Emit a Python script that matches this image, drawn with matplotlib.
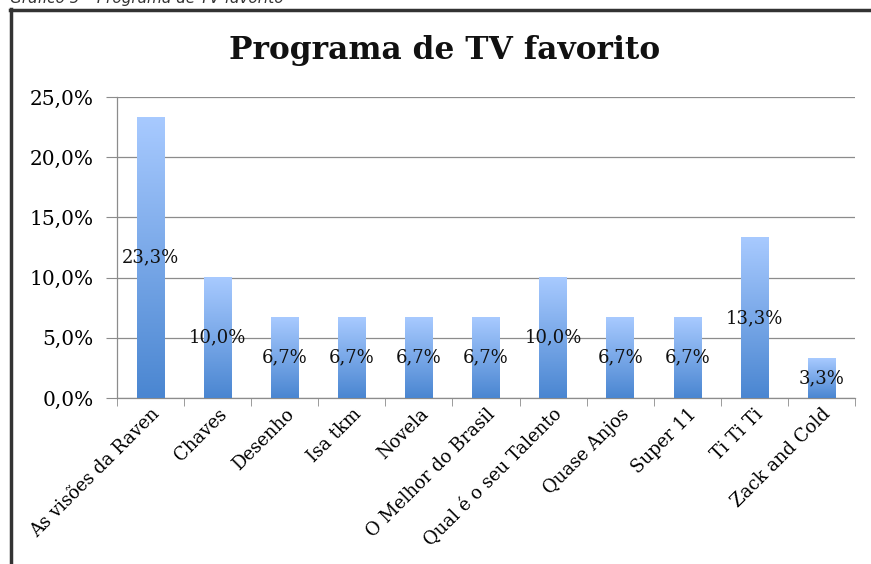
import matplotlib
matplotlib.use("Agg")
import matplotlib.pyplot as plt
import numpy as np
from matplotlib.colors import LinearSegmentedColormap
from matplotlib.lines import Line2D

categories = ["As visões da Raven", "Chaves", "Desenho", "Isa tkm", "Novela",
              "O Melhor do Brasil", "Qual é o seu Talento", "Quase Anjos",
              "Super 11", "Ti Ti Ti", "Zack and Cold"]
values = [23.3, 10.0, 6.7, 6.7, 6.7, 6.7, 10.0, 6.7, 6.7, 13.3, 3.3]
yticks = [0, 5, 10, 15, 20, 25]
title = "Programa de TV favorito"
caption = "Gráfico 5 – Programa de TV favorito"

serif = ["DejaVu Serif"]

W, H = 871, 564
fig = plt.figure(figsize=(W / 100, H / 100), dpi=100)

# outer frame
fig.add_artist(Line2D([10.5 / W, 10.5 / W], [0, 1 - 9 / H], color="#333333", lw=2.5))
fig.add_artist(Line2D([10 / W, 1], [1 - 9.5 / H, 1 - 9.5 / H], color="#333333", lw=2.5))
fig.text(10 / W, 1 - 3 / H, caption, fontsize=11, style="italic",
         family="DejaVu Sans", color="#333333", va="baseline", ha="left")

ax = fig.add_axes([117 / W, 1 - 398 / H, (855 - 117) / W, (398 - 97) / H])

x = np.arange(len(categories))
bars = ax.bar(x, values, width=0.41, color="none", edgecolor="none", zorder=3)

cmap = LinearSegmentedColormap.from_list("g", ["#4a86d1", "#a8caff"])
grad = np.linspace(0, 1, 256).reshape(-1, 1)
for b in bars:
    x0, y0 = b.get_x(), b.get_y()
    ax.imshow(grad, cmap=cmap, origin="lower", aspect="auto",
              extent=[x0, x0 + b.get_width(), y0, y0 + b.get_height()], zorder=3)

for b, v in zip(bars, values):
    ax.text(b.get_x() + b.get_width() / 2, v / 2, f"{v:.1f}%".replace(".", ","),
            ha="center", va="center", fontsize=13, family=serif, color="#111111", zorder=4)

ax.set_xlim(-0.5, len(categories) - 0.5)
ax.set_ylim(0, 25)
ax.set_yticks(yticks)
ax.set_yticklabels([f"{t:.1f}%".replace(".", ",") for t in yticks], family=serif, fontsize=14.5)
ax.yaxis.grid(True, color="#8c8c8c", lw=0.9, zorder=0)
ax.set_axisbelow(True)

ax.set_xticks(x)
ax.set_xticklabels(categories, rotation=45, ha="right", rotation_mode="anchor",
                   family=serif, fontsize=13)
ax.set_xticks(np.arange(-0.5, len(categories), 1), minor=True)
ax.tick_params(axis="x", which="major", length=0, pad=5)
ax.tick_params(axis="x", which="minor", length=6, color="#8c8c8c", direction="out")
ax.tick_params(axis="y", length=8, color="#8c8c8c", pad=9)

for s in ["top", "right"]:
    ax.spines[s].set_visible(False)
for s in ["left", "bottom"]:
    ax.spines[s].set_color("#8c8c8c")
    ax.spines[s].set_linewidth(0.9)

fig.text(445 / W, 1 - 51 / H, title, fontsize=22.5, fontweight="bold", family=serif,
         ha="center", va="center", color="#111111")

fig.savefig("out.png", dpi=100)
